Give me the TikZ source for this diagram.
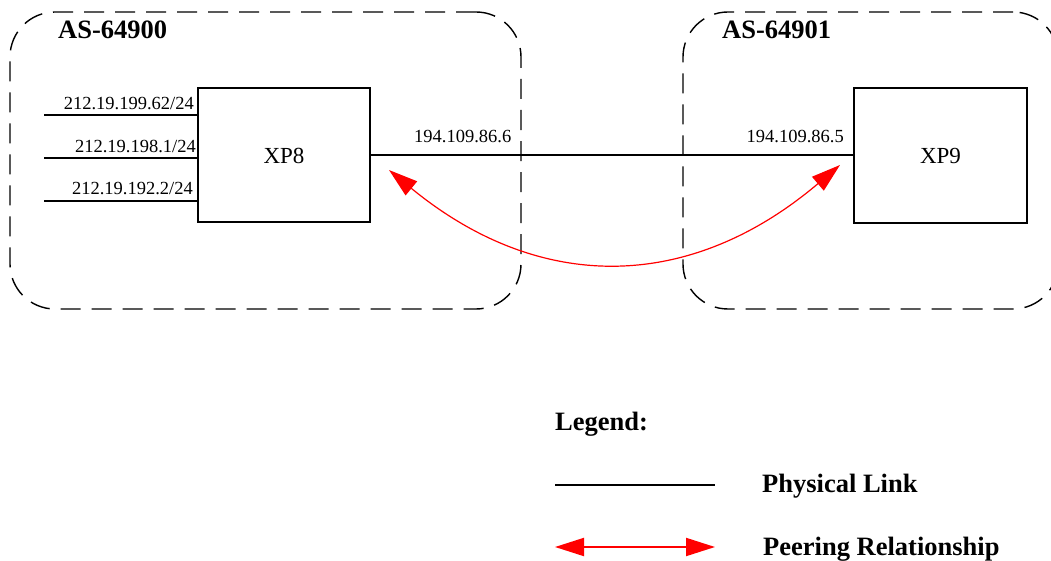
\documentclass[tikz,border=0pt]{standalone}
\usepackage{fontspec}
\setmainfont{Liberation Serif}
\usetikzlibrary{arrows.meta}
\begin{document}
\begin{tikzpicture}[x=1pt,y=-1pt,
  asbox/.style={draw, line width=1.4pt, dash pattern=on 20pt off 11pt, rounded corners=45pt, inner sep=0pt},
  router/.style={draw, line width=2pt, inner sep=0pt, font=\fontsize{23}{26}\selectfont},
  iplabel/.style={inner sep=0pt, font=\fontsize{18.5}{20}\selectfont},
  astitle/.style={inner sep=0pt, font=\fontsize{26.5}{30}\selectfont\bfseries},
  legtext/.style={inner sep=0pt, font=\fontsize{26.5}{30}\selectfont\bfseries},
  link/.style={line width=2pt},
  peer/.style={red, line width=1.2pt, {Triangle[length=29pt,width=18pt]}-{Triangle[length=29pt,width=18pt]}}
]
\useasboundingbox (0,0) rectangle (1051,561);
\clip (0,0) rectangle (1051,561);
% AS boxes
\node[asbox, minimum width=511pt, minimum height=297pt] (as1) at (265.5,160.5) {};
\node[asbox, minimum width=375pt, minimum height=297pt] (as2) at (870.5,160.5) {};
\node[astitle, anchor=base west] (as1t) at (58,39) {AS-64900};
\node[astitle, anchor=base west] (as2t) at (722,39) {AS-64901};
% routers
\node[router, minimum width=172pt, minimum height=134pt] (xp8) at (284,155.5) {XP8};
\node[router, minimum width=173pt, minimum height=135pt] (xp9) at (940.5,155.5) {XP9};
% stub networks
\coordinate (s1) at (44,115);
\coordinate (s2) at (44,158);
\coordinate (s3) at (44,201);
\draw[link] (s1) -- (s1 -| xp8.west);
\draw[link] (s2) -- (s2 -| xp8.west);
\draw[link] (s3) -- (s3 -| xp8.west);
\node[iplabel, anchor=base east] (n1) at (194,110) {212.19.199.62/24};
\node[iplabel, anchor=base east] (n2) at (196,153) {212.19.198.1/24};
\node[iplabel, anchor=base east] (n3) at (193,195) {212.19.192.2/24};
% physical link
\draw[link] (xp8.east) -- (xp9.west);
\node[iplabel, anchor=base west] (a8) at (414,143) {194.109.86.6};
\node[iplabel, anchor=base east] (a9) at (844,143) {194.109.86.5};
% peering
\coordinate (t8) at (389,170);
\coordinate (t9) at (840,165);
\draw[peer] (t8) .. controls (540,294) and (690,292) .. (t9);
% legend
\node[legtext, anchor=base west] (leg) at (555,430) {Legend:};
\coordinate (l1a) at (555,485);
\coordinate (l1b) at (715,485);
\draw[link] (l1a) -- (l1b);
\node[legtext, anchor=base west] (leg1) at (762,492) {Physical Link};
\coordinate (l2a) at (555,547);
\coordinate (l2b) at (715,547);
\draw[peer, line width=2pt] (l2a) -- (l2b);
\node[legtext, anchor=base west] (leg2) at (763,555) {Peering Relationship};
\end{tikzpicture}
\end{document}
